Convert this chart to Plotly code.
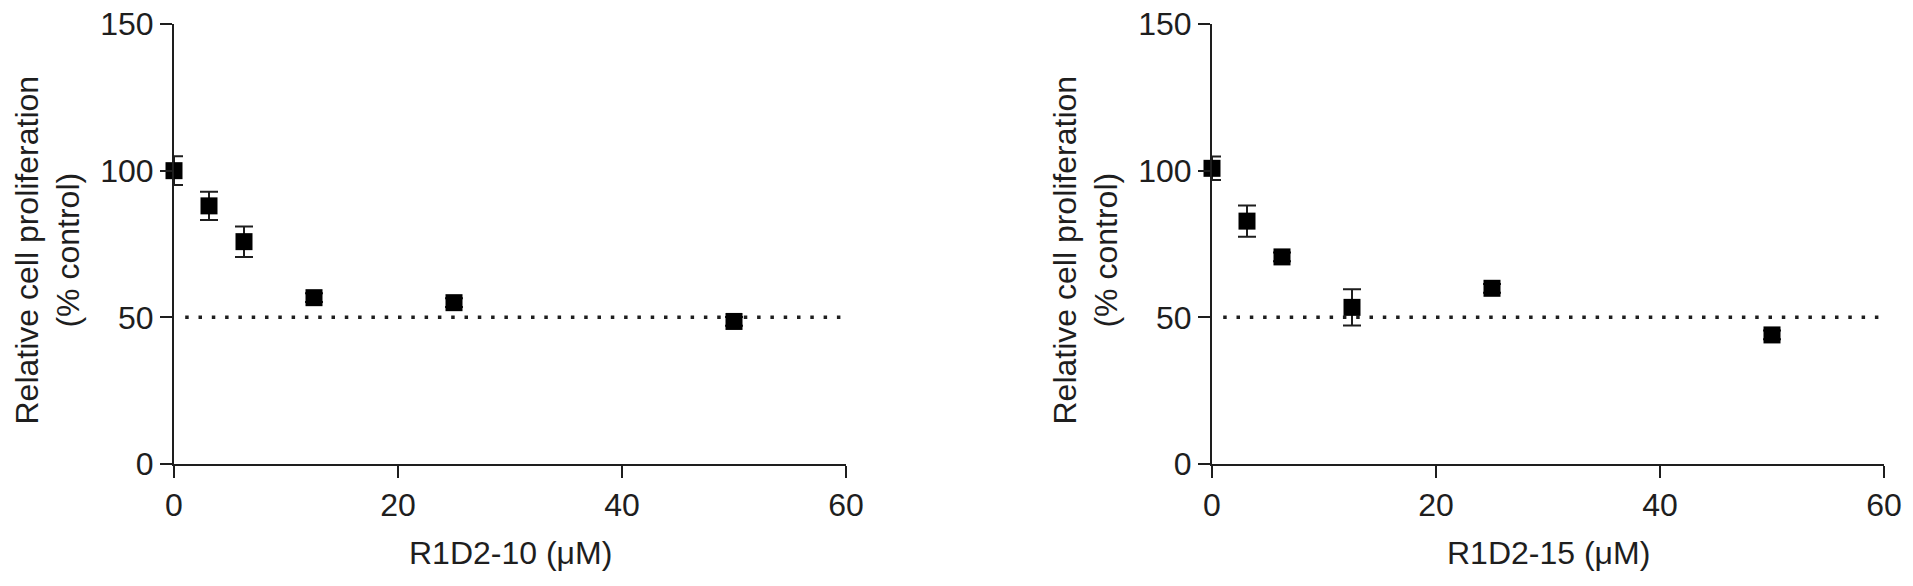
import plotly.graph_objects as go

# Data
concentrations = [0, 3.125, 6.25, 12.5, 25, 50]
r1d2_10_mean = [100.0, 88.0, 75.8, 56.7, 55.0, 48.6]
r1d2_10_err = [4.9, 4.8, 5.2, 1.5, 1.5, 1.5]
r1d2_15_mean = [100.8, 82.8, 70.6, 53.4, 59.9, 44.0]
r1d2_15_err = [4.0, 5.3, 1.5, 6.2, 1.5, 1.5]
half_line_x = [1, 59.5]
half_line_y = [50, 50]

x_titles = ["R1D2-10 (μM)", "R1D2-15 (μM)"]
y_title = "Relative cell proliferation<br>(% control)"
x_ticks = [0, 20, 40, 60]
y_ticks = [0, 50, 100, 150]

W, H = 1913, 586
INK = "#1e1e1e"
FONT = "Liberation Sans, Arial, sans-serif"
FS = 32

# pixel geometry of the two plot areas
panels = [(174, 846), (1212, 1884)]
y_top, y_bot = 24, 464

fig = go.Figure()

series = [(r1d2_10_mean, r1d2_10_err), (r1d2_15_mean, r1d2_15_err)]
for i, ((means, errs), (xl, xr)) in enumerate(zip(series, panels)):
    xa = "x" if i == 0 else "x2"
    ya = "y" if i == 0 else "y2"
    fig.add_trace(go.Scatter(
        x=half_line_x, y=half_line_y, mode="lines",
        line=dict(color=INK, width=3.5, dash="3.5px,9.8px"),
        xaxis=xa, yaxis=ya, showlegend=False, hoverinfo="skip",
    ))
    fig.add_trace(go.Scatter(
        x=concentrations, y=means, mode="markers",
        marker=dict(symbol="square", size=17, color="#000000", line=dict(width=0)),
        error_y=dict(type="data", array=errs, visible=True, color=INK,
                     thickness=2, width=9),
        xaxis=xa, yaxis=ya, showlegend=False, cliponaxis=False,
    ))

common_x = dict(range=[0, 60], tickvals=x_ticks, ticks="outside", ticklen=12,
                tickwidth=2, tickcolor=INK, showline=True, linecolor=INK,
                linewidth=2, showgrid=False, zeroline=False, automargin=False,
                tickfont=dict(family=FONT, size=FS, color=INK))
common_y = dict(range=[0, 150], tickvals=y_ticks, ticks="outside", ticklen=12,
                tickwidth=2, tickcolor=INK, showline=True, linecolor=INK,
                linewidth=2, showgrid=False, zeroline=False, automargin=False,
                tickfont=dict(family=FONT, size=FS, color=INK))

ydom = [1 - y_bot / H, 1 - y_top / H]
fig.update_layout(
    template="none",
    width=W, height=H,
    margin=dict(l=0, r=0, t=0, b=0, autoexpand=False),
    paper_bgcolor="white", plot_bgcolor="white",
    xaxis=dict(domain=[panels[0][0] / W, panels[0][1] / W], anchor="y", **common_x),
    yaxis=dict(domain=ydom, anchor="x", **common_y),
    xaxis2=dict(domain=[panels[1][0] / W, panels[1][1] / W], anchor="y2", **common_x),
    yaxis2=dict(domain=ydom, anchor="x2", **common_y),
)

annotations = []
for i, (xl, xr) in enumerate(panels):
    annotations.append(dict(
        text=x_titles[i], xref="paper", yref="paper",
        x=(xl + xr) / 2 / W, y=1 - 553 / H, xanchor="center", yanchor="middle",
        showarrow=False, font=dict(family=FONT, size=FS, color=INK),
    ))
    annotations.append(dict(
        text=y_title, xref="paper", yref="paper",
        x=(xl - 126.5) / W, y=1 - 250 / H, xanchor="center", yanchor="middle",
        textangle=-90, showarrow=False, font=dict(family=FONT, size=FS, color=INK),
    ))
fig.update_layout(annotations=annotations)

fig.write_html("out.html", config={"displayModeBar": False},
               post_script="document.body.style.margin='0';")
